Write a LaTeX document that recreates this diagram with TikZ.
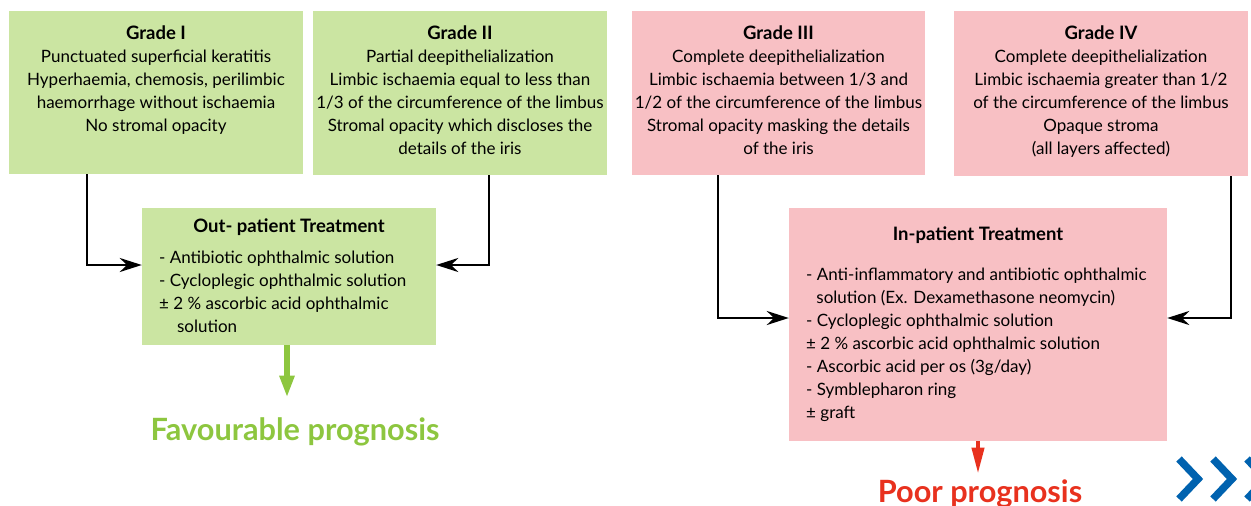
\documentclass[tikz,border=0pt]{standalone}
\usepackage{fontspec}
\setmainfont{Lato}
\usetikzlibrary{arrows.meta}
\definecolor{gradegreen}{HTML}{CBE5A2}
\definecolor{gradepink}{HTML}{F8C0C4}
\definecolor{okgreen}{HTML}{8DC63F}
\definecolor{badred}{HTML}{E8311E}
\definecolor{chevblue}{HTML}{0062AF}
\newcommand{\boxhead}[1]{{\bfseries\fontsize{18.5}{23}\selectfont #1}}

\begin{document}
\begin{tikzpicture}[x=1pt,y=-1pt,
  txt/.style={inner sep=0pt,font=\fontsize{17}{23}\selectfont},
  greenbox/.style={fill=gradegreen,inner sep=0pt},
  pinkbox/.style={fill=gradepink,inner sep=0pt},
  conn/.style={line width=2.2pt,-{Stealth[length=22pt,width=14pt,inset=7pt]}}]
\useasboundingbox (0,0) rectangle (1251,506);

% grades
\node[greenbox,minimum width=294pt,minimum height=163pt] (g1) at (156,92.5) {};
\node[greenbox,minimum width=294pt,minimum height=164pt] (g2) at (460,93) {};
\node[pinkbox,minimum width=293pt,minimum height=164pt] (g3) at (778.5,93) {};
\node[pinkbox,minimum width=294pt,minimum height=165pt] (g4) at (1101,93.5) {};
\node[txt,align=center,anchor=north] (g1t) at (156,26) {\boxhead{Grade I}\\
  Punctuated superficial keratitis\\ Hyperhaemia, chemosis, perilimbic\\
  haemorrhage without ischaemia\\ No stromal opacity};
\node[txt,align=center,anchor=north] (g2t) at (460,26) {\boxhead{Grade II}\\
  Partial deepithelialization\\ Limbic ischaemia equal to less than\\
  1/3 of the circumference of the limbus\\ Stromal opacity which discloses the\\
  details of the iris};
\node[txt,align=center,anchor=north] (g3t) at (778.5,26) {\boxhead{Grade III}\\
  Complete deepithelialization\\ Limbic ischaemia between 1/3 and\\
  1/2 of the circumference of the limbus\\ Stromal opacity masking the details\\
  of the iris};
\node[txt,align=center,anchor=north] (g4t) at (1101,26) {\boxhead{Grade IV}\\
  Complete deepithelialization\\ Limbic ischaemia greater than 1/2\\
  of the circumference of the limbus\\ Opaque stroma\\ (all layers affected)};

% treatments
\node[greenbox,minimum width=294pt,minimum height=137pt] (out) at (289,276.5) {};
\node[pinkbox,minimum width=378pt,minimum height=233pt] (in) at (978,324.5) {};
\node[txt,anchor=north] (outt) at (289,218.5) {\boxhead{Out- patient Treatment}};
\node[txt,align=left,anchor=north west] (outl) at (159,250.5) {- Antibiotic ophthalmic solution\\
  - Cycloplegic ophthalmic solution\\ ± 2 \% ascorbic acid ophthalmic\\
  \hspace*{1.05em}solution};
\node[txt,anchor=north] (int) at (978,227) {\boxhead{In-patient Treatment}};
\node[txt,align=left,anchor=north west] (inl) at (806,267.5) {- Anti-inflammatory and antibiotic ophthalmic\\
  \hspace*{0.6em}solution (Ex. Dexamethasone neomycin)\\ - Cycloplegic ophthalmic solution\\
  ± 2 \% ascorbic acid ophthalmic solution\\ - Ascorbic acid per os (3g/day)\\
  - Symblepharon ring\\ ± graft};

% outcomes
\node[inner sep=0pt,text=okgreen,font=\fontsize{30.7}{31}\selectfont\bfseries] (fav) at (295,432) {Favourable prognosis};
\node[inner sep=0pt,text=badred,font=\fontsize{30.7}{31}\selectfont\bfseries] (poor) at (980,494) {Poor prognosis};

\draw[conn] ([xshift=-69pt]g1.south) |- ([yshift=11.5pt]out.west);
\draw[conn] ([xshift=29pt]g2.south) |- ([yshift=11.5pt]out.east);
\draw[conn] ([xshift=-60.5pt]g3.south) |- ([yshift=6.5pt]in.west);
\draw[conn] ([xshift=130pt]g4.south) |- ([yshift=6.5pt]in.east);
\draw[okgreen,line width=6pt,-{Triangle[length=22pt,width=14pt]},shorten >=20pt]
  ([xshift=-2pt]out.south) -- ([xshift=-2pt]out.south |- fav.north);
\draw[badred,line width=4pt,-{Triangle[length=26pt,width=12pt]},shorten >=6pt]
  (in.south) -- (in.south |- poor.north);

% chevrons
\foreach \dx in {0,34,68}
  \draw[chevblue,line width=7.5pt] (1179+\dx,459) -- (1198+\dx,479) -- (1179+\dx,499);
\end{tikzpicture}
\end{document}
